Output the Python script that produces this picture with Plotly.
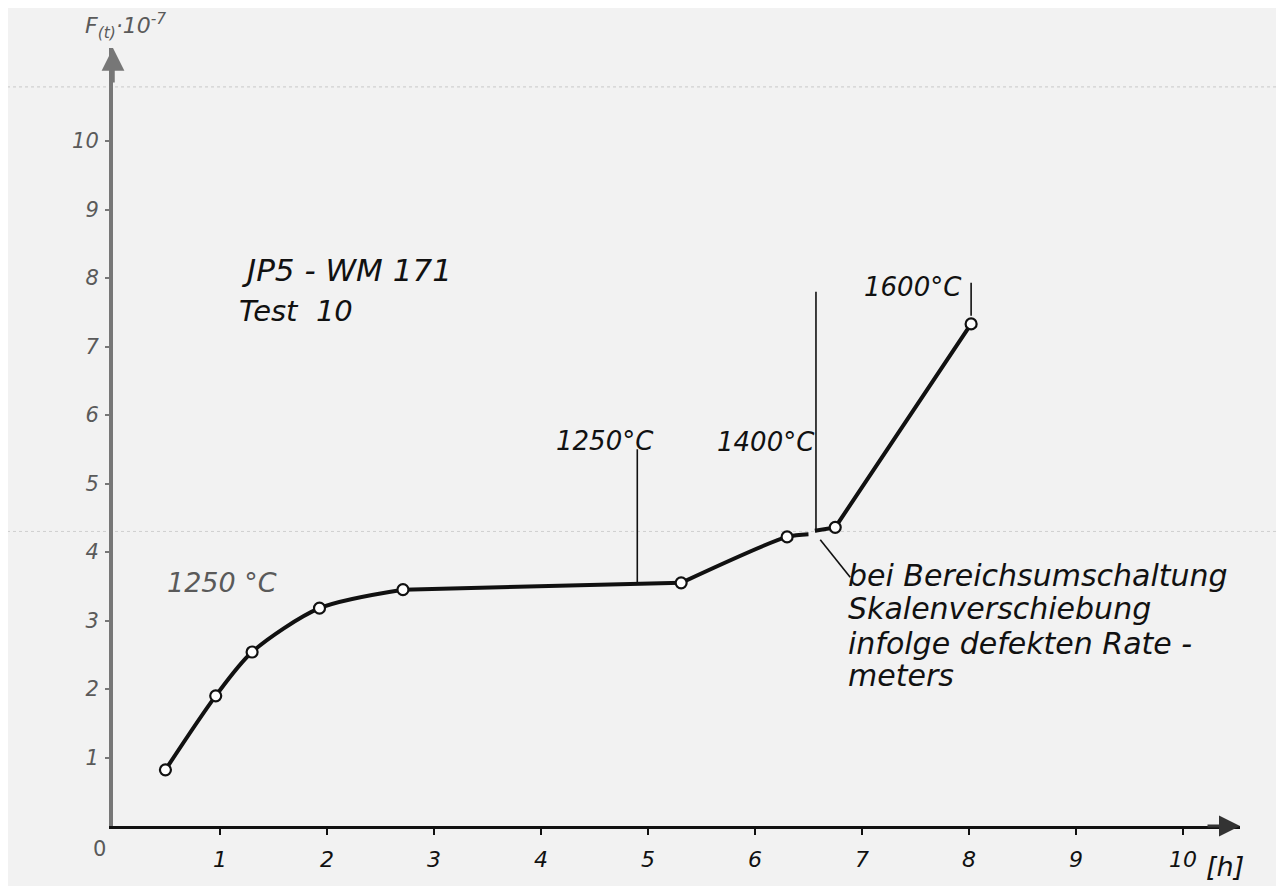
import plotly.graph_objects as go

# ---- data ----
rise_x = [0.49, 0.96, 1.30, 1.93, 2.71]
rise_y = [0.82, 1.90, 2.54, 3.18, 3.45]
plateau_x = [2.71, 5.31]
plateau_y = [3.45, 3.55]
climb_x = [5.31, 6.30, 6.50]
climb_y = [3.55, 4.22, 4.26]
upper_x = [6.56, 6.75, 8.02]
upper_y = [4.31, 4.36, 7.33]
points_x = [0.49, 0.96, 1.30, 1.93, 2.71, 5.31, 6.30, 6.75, 8.02]
points_y = [0.82, 1.90, 2.54, 3.18, 3.45, 3.55, 4.22, 4.36, 7.33]

x_ticks = [1, 2, 3, 4, 5, 6, 7, 8, 9, 10]
y_ticks = [1, 2, 3, 4, 5, 6, 7, 8, 9, 10]

# temperature marker lines: x, y_bottom, y_top
temp_x = [4.90, 6.57, 8.02]
temp_y0 = [3.52, 4.29, 7.45]
temp_y1 = [5.50, 7.80, 7.93]
temp_labels = ["1250°C", "1400°C", "1600°C"]
temp_label_x = [4.60, 6.10, 7.48]
temp_label_y = [5.62, 5.60, 7.87]

note_lines = ["bei Bereichsumschaltung", "Skalenverschiebung",
              "infolge defekten Rate -", "meters"]
note_y = [3.66, 3.18, 2.66, 2.19]
note_x = 6.85
leader_x = [6.61, 6.89]
leader_y = [4.18, 3.63]

X_MAX = 10.533
Y_MAX = 11.358

INK = "#111111"
PENCIL = "#5a5a5a"
HAND = "DejaVu Sans"

fig = go.Figure()

for tx, a, b in zip(temp_x, temp_y0, temp_y1):
    fig.add_trace(go.Scatter(x=[tx, tx], y=[a, b], mode="lines",
                             line=dict(color=INK, width=1.6),
                             hoverinfo="skip", showlegend=False))
fig.add_trace(go.Scatter(x=leader_x, y=leader_y, mode="lines",
                         line=dict(color=INK, width=1.6),
                         hoverinfo="skip", showlegend=False))

curve_line = dict(color=INK, width=4)
fig.add_trace(go.Scatter(x=rise_x, y=rise_y, mode="lines",
                         line=dict(curve_line, shape="spline", smoothing=0.8),
                         showlegend=False))
fig.add_trace(go.Scatter(x=plateau_x, y=plateau_y, mode="lines",
                         line=curve_line, showlegend=False))
fig.add_trace(go.Scatter(x=climb_x, y=climb_y, mode="lines",
                         line=dict(curve_line, shape="spline", smoothing=0.8),
                         showlegend=False))
fig.add_trace(go.Scatter(x=upper_x, y=upper_y, mode="lines",
                         line=curve_line, showlegend=False))
fig.add_trace(go.Scatter(x=points_x, y=points_y, mode="markers",
                         marker=dict(size=11, color="white",
                                     line=dict(color=INK, width=2.2)),
                         showlegend=False))

ann = []
for t, lx, ly in zip(temp_labels, temp_label_x, temp_label_y):
    ann.append(dict(x=lx, y=ly, xref="x", yref="y", text=t, showarrow=False,
                    font=dict(family=HAND, size=26, color=INK, style="italic")))
ann.append(dict(x=1.02, y=3.56, xref="x", yref="y", text="1250 °C", showarrow=False,
                font=dict(family=HAND, size=27, color=PENCIL, style="italic")))
ann.append(dict(x=1.18, y=8.12, xref="x", yref="y", text="JP5 - WM 171", showarrow=False,
                xanchor="left", font=dict(family=HAND, size=31, color=INK, style="italic")))
ann.append(dict(x=1.16, y=7.52, xref="x", yref="y", text="Test  10", showarrow=False,
                xanchor="left", font=dict(family=HAND, size=29, color=INK, style="italic")))
for line, ly in zip(note_lines, note_y):
    ann.append(dict(x=note_x, y=ly, xref="x", yref="y", text=line, showarrow=False,
                    xanchor="left", font=dict(family=HAND, size=30, color=INK, style="italic")))
# axis arrows
ann.append(dict(x=X_MAX, y=0, xref="x", yref="y", ax=-34, ay=0, text="", showarrow=True,
                arrowhead=2, arrowsize=1.4, arrowwidth=3, arrowcolor="#333"))
ann.append(dict(x=0, y=Y_MAX, xref="x", yref="y", ax=0, ay=36, text="", showarrow=True,
                arrowhead=2, arrowsize=1.3, arrowwidth=3.5, arrowcolor="#777"))
# axis titles / origin
ann.append(dict(x=1.005, y=-0.052, xref="paper", yref="paper", xanchor="right", yanchor="middle",
                text="[h]", showarrow=False,
                font=dict(family=HAND, size=27, color=INK, style="italic")))
ann.append(dict(x=-0.027, y=1.051, xref="paper", yref="paper", xanchor="left", yanchor="top",
                text="F<sub>(t)</sub>·10<sup>-7</sup>", showarrow=False,
                font=dict(family=HAND, size=22, color=PENCIL, style="italic")))
ann.append(dict(x=-0.004, y=-0.012, xref="paper", yref="paper", xanchor="right", yanchor="top",
                text="0", showarrow=False,
                font=dict(family=HAND, size=21, color=PENCIL)))

shapes = [
    dict(type="line", xref="paper", yref="y", x0=-0.11, x1=1.05, y0=10.79, y1=10.79,
         line=dict(color="#c8c8c8", width=1, dash="dot"), layer="below"),
    dict(type="line", xref="paper", yref="y", x0=-0.11, x1=1.05, y0=4.30, y1=4.30,
         line=dict(color="#cfcfcf", width=1, dash="dot"), layer="below"),
    dict(type="line", xref="x", yref="y", x0=-0.12, x1=0, y0=0, y1=0,
         line=dict(color=INK, width=3)),
    dict(type="line", xref="x", yref="y", x0=0, x1=0, y0=-0.2, y1=0,
         line=dict(color="#777", width=4)),
]

fig.update_layout(
    width=1276, height=878,
    margin=dict(l=105, r=44, t=40, b=60),
    paper_bgcolor="#f2f2f2", plot_bgcolor="#f2f2f2",
    annotations=ann, shapes=shapes,
    xaxis=dict(range=[0, X_MAX], showgrid=False, zeroline=False,
               showline=True, linecolor=INK, linewidth=3,
               tickmode="array", tickvals=x_ticks, ticktext=[str(v) for v in x_ticks],
               ticks="outside", ticklen=6, tickwidth=1.5, tickcolor=INK,
               ticklabelstandoff=6,
               tickfont=dict(family=HAND, size=22, color=INK, style="italic")),
    yaxis=dict(range=[0, Y_MAX], showgrid=False, zeroline=False,
               showline=True, linecolor="#777", linewidth=4,
               tickmode="array", tickvals=y_ticks, ticktext=[str(v) for v in y_ticks],
               ticks="outside", ticklen=4, tickwidth=1.5, tickcolor="#777",
               ticklabelstandoff=2,
               tickfont=dict(family=HAND, size=21, color=PENCIL, style="italic")),
)

fig.write_html("out.html")
